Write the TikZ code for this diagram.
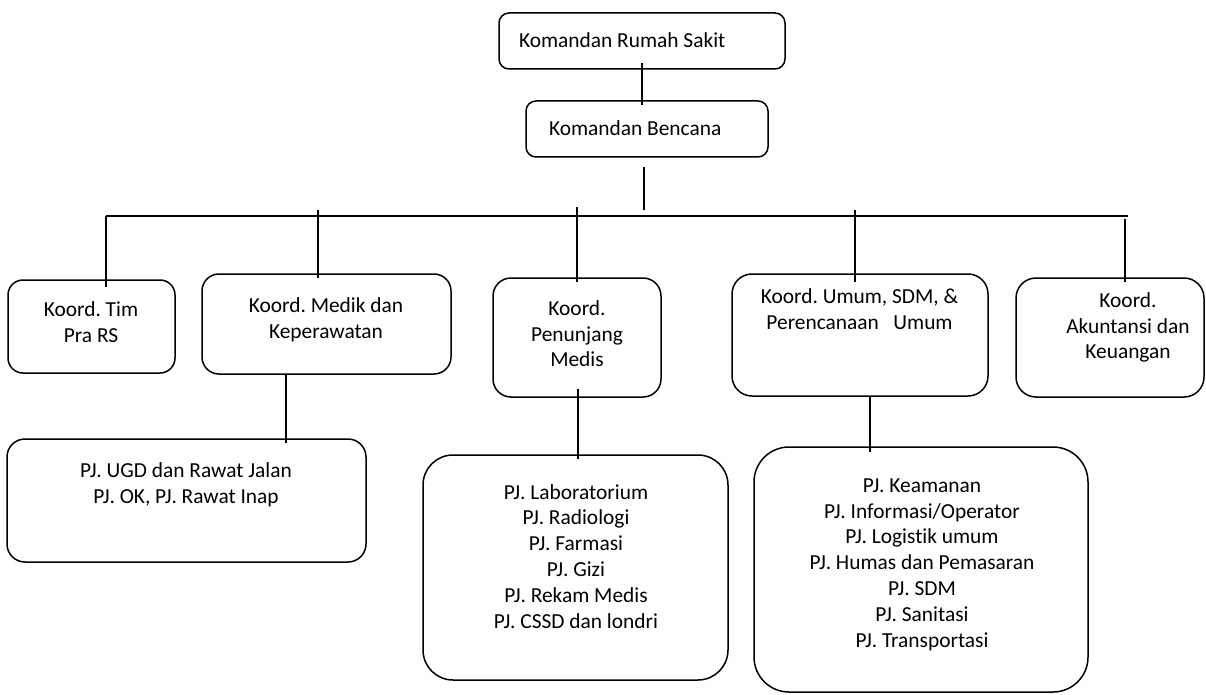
\documentclass[tikz,border=0pt]{standalone}
\usepackage{fontspec}
\setmainfont{Carlito}[Ligatures=NoCommon]
\frenchspacing
\begin{document}
\begin{tikzpicture}[x=1pt,y=-1pt,
  bx/.style={draw, line width=1.5pt, inner sep=0pt, outer sep=0pt},
  txt/.style={inner sep=0pt, outer sep=0pt, align=center, font=\fontsize{21.4}{25.8}\selectfont},
  ln/.style={line width=1.5pt}]
\useasboundingbox[fill=white] (0,0) rectangle (1206,695);
% boxes
\node[bx, rounded corners=10pt, minimum width=286pt, minimum height=56pt] (k1) at (642,41) {};
\node[bx, rounded corners=10pt, minimum width=242pt, minimum height=56pt] (k2) at (647,129) {};
\node[bx, rounded corners=15pt, minimum width=167pt, minimum height=93pt] (tim) at (91.5,326.5) {};
\node[bx, rounded corners=17pt, minimum width=249pt, minimum height=100pt] (medik) at (326.5,324) {};
\node[bx, rounded corners=18pt, minimum width=168pt, minimum height=119pt] (penunjang) at (577,337.5) {};
\node[bx, rounded corners=20pt, minimum width=256pt, minimum height=122pt] (umum) at (860,335) {};
\node[bx, rounded corners=20pt, minimum width=188pt, minimum height=119pt] (akun) at (1110,337.5) {};
\node[bx, rounded corners=18pt, minimum width=359pt, minimum height=123pt] (ugd) at (186.5,500.5) {};
\node[bx, rounded corners=30pt, minimum width=305pt, minimum height=225pt] (lab) at (575.5,567.5) {};
\node[bx, rounded corners=35pt, minimum width=334pt, minimum height=245pt] (aman) at (921,569.5) {};
% texts
\node[txt, anchor=west] (t1) at (519,42) {\strut Komandan Rumah Sakit};
\node[txt, anchor=west] (t2) at (549,130) {\strut Komandan Bencana};
\node[txt] (ttim) at (91,324.5) {\strut Koord. Tim\\\strut Pra RS};
\node[txt] (tmedik) at (326,320) {\strut Koord. Medik dan\\\strut Keperawatan};
\node[txt] (tpen) at (577,336) {\strut Koord.\\\strut Penunjang\\\strut Medis};
\node[txt] (tumum) at (859.5,311) {\strut Koord. Umum, SDM, \&\\\strut Perencanaan\ \ \ Umum};
\node[txt] (takun) at (1128,328) {\strut Koord.\\\strut Akuntansi dan\\\strut Keuangan};
\node[txt] (tugd) at (186,485) {\strut PJ. UGD dan Rawat Jalan\\\strut PJ. OK, PJ. Rawat Inap};
\node[txt] (tlab) at (576,558.5) {\strut PJ. Laboratorium\\\strut PJ. Radiologi\\\strut PJ. Farmasi\\\strut PJ. Gizi\\\strut PJ. Rekam Medis\\\strut PJ. CSSD dan londri};
\node[txt] (taman) at (922,564.5) {\strut PJ. Keamanan\\\strut PJ. Informasi/Operator\\\strut PJ. Logistik umum\\\strut PJ. Humas dan Pemasaran\\\strut PJ. SDM\\\strut PJ. Sanitasi\\\strut PJ. Transportasi};
% connector points
\coordinate (busL) at (106,216);
\coordinate (busR) at (1128,216);
\coordinate (c1) at (642,63);
\coordinate (c2a) at (644,167);
\coordinate (c2b) at (644,210);
\coordinate (dTim) at (106,216);
\coordinate (dMed) at (318,210);
\coordinate (dPen) at (577,207);
\coordinate (dUm) at (855,210);
\coordinate (dAk) at (1125,219);
\coordinate (uMed) at (286,374);
\coordinate (uPen) at (578,389);
\coordinate (uUm) at (870,396);
% connectors
\draw[ln] (c1) -- ([yshift=-4pt]c1 |- k2.north);
\draw[ln] (c2a) -- (c2b);
\draw[ln] (busL) -- (busR);
\draw[ln] (dTim) -- ([yshift=-7pt]dTim |- tim.north);
\draw[ln] (dMed) -- ([yshift=-4pt]dMed |- medik.north);
\draw[ln] (dPen) -- ([yshift=-4pt]dPen |- penunjang.north);
\draw[ln] (dUm) -- ([yshift=-8pt]dUm |- umum.north);
\draw[ln] (dAk) -- ([yshift=-4pt]dAk |- akun.north);
\draw[ln] (uMed) -- ([yshift=-4pt]uMed |- ugd.north);
\draw[ln] (uPen) -- ([yshift=-4pt]uPen |- lab.north);
\draw[ln] (uUm) -- ([yshift=-5pt]uUm |- aman.north);
\end{tikzpicture}
\end{document}
